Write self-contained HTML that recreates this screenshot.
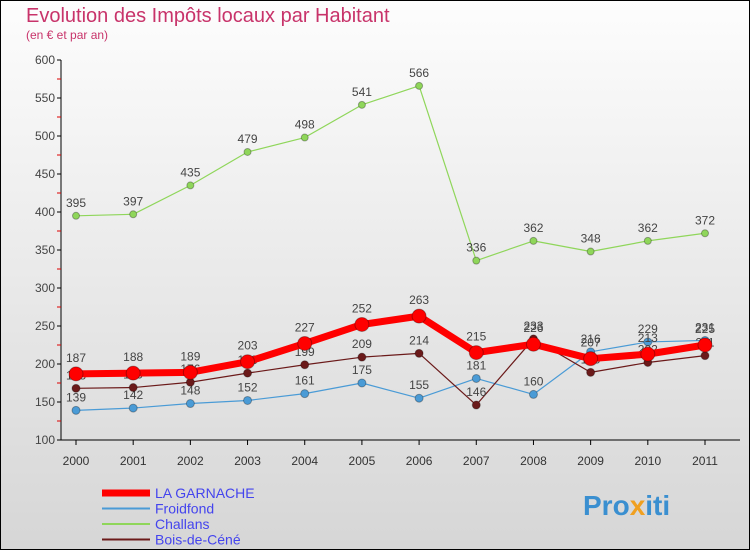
<!DOCTYPE html>
<html><head><meta charset="utf-8"><style>
body{margin:0;width:750px;height:550px;overflow:hidden;font-family:"Liberation Sans",sans-serif}
</style></head><body>
<svg width="750" height="550" xmlns="http://www.w3.org/2000/svg">
<defs><linearGradient id="bg" x1="0" y1="0" x2="0" y2="1"><stop offset="0" stop-color="#fdfdfd"/><stop offset="1" stop-color="#d6d6d6"/></linearGradient></defs>
<rect x="0.5" y="0.5" width="749" height="549" fill="url(#bg)" stroke="#000"/>
<text x="26" y="22" font-size="20" fill="#c8336a">Evolution des Impôts locaux par Habitant</text>
<text x="26" y="39" font-size="12" fill="#c8336a">(en € et par an)</text>
<g id="axes"></g><g id="series"></g><g id="legend"></g>
<text x="583" y="515" font-size="28" font-weight="bold" fill="#3a8fd0">Pro<tspan fill="#f0a020">x</tspan>iti</text>
</svg>
<script>
const years=["2000","2001","2002","2003","2004","2005","2006","2007","2008","2009","2010","2011"];
const yTicks=[100,150,200,250,300,350,400,450,500,550,600];
const garnache=[187,188,189,203,227,252,263,215,226,207,213,225];
const froidfond=[139,142,148,152,161,175,155,181,160,216,229,231];
const challans=[395,397,435,479,498,541,566,336,362,348,362,372];
const bois=[168,169,176,188,199,209,214,146,233,189,202,211];
const NS="http://www.w3.org/2000/svg";
const X=i=>76+i*(705-76)/11, Y=v=>440-(v-100)*0.76;
function mk(t,a,p,txt){const e=document.createElementNS(NS,t);for(const k in a)e.setAttribute(k,a[k]);if(txt!==undefined)e.textContent=txt;p.appendChild(e);return e;}
const ax=document.getElementById('axes');
let e=mk('line',{x1:61,y1:60,x2:61,y2:440,stroke:'#000'},ax);

e=mk('line',{x1:61,y1:440,x2:740,y2:440,stroke:'#000'},ax);

yTicks.forEach(v=>{mk('line',{x1:57,y1:Y(v),x2:61,y2:Y(v),stroke:'#000'},ax);
 if(v<600)mk('line',{x1:57,y1:Y(v+25),x2:61,y2:Y(v+25),stroke:'#d00'},ax);
 e=mk('text',{x:55,y:Y(v)+4,'font-size':12,fill:'#444','text-anchor':'end'},ax,v);
 });
years.forEach((y,i)=>{mk('line',{x1:X(i),y1:440,x2:X(i),y2:445,stroke:'#000'},ax);
 e=mk('text',{x:X(i),y:465,'font-size':12,fill:'#333','text-anchor':'middle'},ax,y);
 });
const sg=document.getElementById('series');
function draw(d,col,w,r,name,labDy){const g=mk('g',{},sg);
 
 e=mk('polyline',{points:d.map((v,i)=>X(i)+','+Y(v)).join(' '),fill:'none',stroke:col,'stroke-width':w,'stroke-linejoin':'round'},g);
 
 d.forEach((v,i)=>{e=mk('circle',{cx:X(i),cy:Y(v),r:r,fill:col,stroke:'rgba(0,0,0,0.3)'},g);
  
  e=mk('text',{x:X(i),y:Y(v)+labDy,'font-size':12,fill:'#444','text-anchor':'middle'},g,v);
  });}
draw(challans,'#8fd65a',1.2,3.5,'challans',-9);
draw(froidfond,'#4a9bd6',1.2,4,'froidfond',-9);
draw(bois,'#6b1a1a',1.2,4,'bois-de-cene',-9);
draw(garnache,'#ff0000',7,7,'la-garnache',-12);
const lg=document.getElementById('legend');
const leg=[["LA GARNACHE","#ff0000",7],["Froidfond","#4a9bd6",2],["Challans","#8fd65a",2],["Bois-de-Céné","#6b1a1a",2]];
leg.forEach((l,i)=>{const y=493+i*15.5;
 e=mk('line',{x1:102,y1:y,x2:150,y2:y,stroke:l[1],'stroke-width':l[2]},lg);
 
 e=mk('text',{x:155,y:y+5,'font-size':14,fill:'#4444ee'},lg,l[0]);
 });
</script>
</body></html>
